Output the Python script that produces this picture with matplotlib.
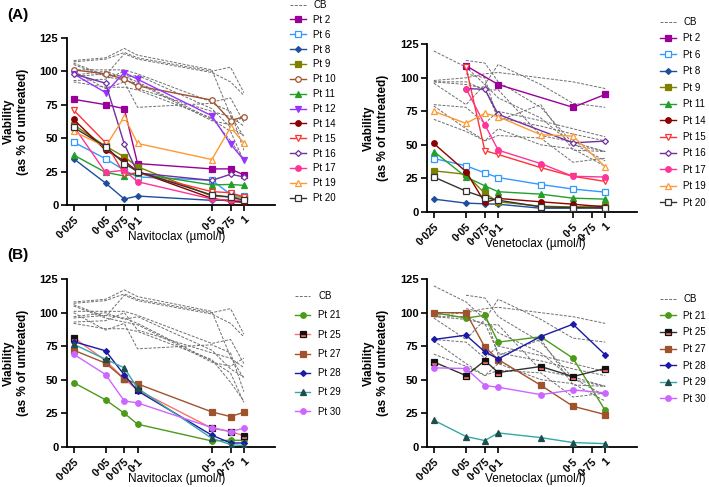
import numpy as np
import matplotlib.pyplot as plt
from matplotlib.ticker import FixedLocator, NullLocator
from matplotlib.transforms import ScaledTranslation

plt.rcParams['font.family'] = ['Liberation Sans', 'DejaVu Sans']

# doses (umol/l)
nav_dose = [0.025, 0.05, 0.075, 0.1, 0.5, 0.75, 1]
ven_dose = [0.025, 0.05, 0.075, 0.1, 0.25, 0.5, 1]
tick_vals = [0.025, 0.05, 0.075, 0.1, 0.5, 0.75, 1]
tick_labels = ['0·025', '0·05', '0·075', '0·1', '0·5', '0·75', '1']
y_ticks = [0, 25, 50, 75, 100, 125]

# cord blood controls (grey dashed)
nav_cb = [
    [108, 110, 117, 112, 101, 67, 51],
    [107, 109, 114, 110, 100, 103, 84],
    [106, 97, 113, 109, 99, 92, 82],
    [101, 101, 101, 98, 77, 80, 62],
    [100, 87, 92, 73, 76, 70, 41],
    [97, 100, 95, 97, 72, 58, 52],
    [96, 98, 96, 92, 64, 55, 33],
    [93, 94, 100, 87, 70, 66, 59],
    [92, 88, 88, 86, 65, 48, 34],
    [105, 96, 93, 91, 63, 60, 66],
]
ven_cb = [
    [120, 108, 95, 85, 70, 50, 45],
    [np.nan, 113, 111, 97, 78, 51, 38],
    [98, 100, 103, 104, 100, 97, 92],
    [97, 97, 91, 91, 57, 52, 45],
    [96, 80, 95, 110, 95, 81, 78],
    [80, 78, 66, 75, 68, 62, 56],
    [79, 62, 53, 57, 55, 37, 40],
    [69, 60, 53, 62, 50, 47, 34],
    [97, 95, 92, 70, 64, 58, 53],
    [np.nan, 103, 100, 68, 80, 46, 45],
]

# (A) patients, navitoclax
nav_a = {
    'Pt 2': [79, 75, 72, 31, 27, 27, 22.5],
    'Pt 6': [47, 34.6, 26, 21, 18.5, 8, 6.5],
    'Pt 8': [34.6, 16.4, 4.5, 6.7, 3.5, 3.7, 2.2],
    'Pt 9': [60, 44, 36, 28.6, 6.7, 6, 6],
    'Pt 10': [101, 98, 94, 89, 78.4, 63, 66],
    'Pt 11': [37.4, 24.4, 21.7, 23.7, 15, 15.4, 14.7],
    'Pt 12': [98, 84, 99, 94, 66.7, 45.6, 33.6],
    'Pt 14': [64, 41, 33, 25, 5, 2.7, 2],
    'Pt 15': [71, 46.6, 23, 24, 10, 9.2, 6],
    'Pt 16': [98, 91, 45.6, 24, 18.4, 23, 21],
    'Pt 17': [59, 24.4, 26, 17.4, 4.5, 3.5, 3.7],
    'Pt 19': [55, 43.6, 66, 46, 34, 58, 46.5],
    'Pt 20': [58, 43.6, 31, 25, 7.5, 6, 3.7],
}
# (A) patients, venetoclax
ven_a = {
    'Pt 2': [np.nan, 109, np.nan, 95, np.nan, 78, 87.6],
    'Pt 6': [39.8, 34.4, 29, 25.6, 20.4, 17, 14.7],
    'Pt 8': [9.5, 6.5, 6, 5.7, 2.7, 2.7, 3.2],
    'Pt 9': [30.6, 28, 13.7, 7.5, 4.2, 3.7, 4.5],
    'Pt 11': [45, 26, 19.4, 15, 13.2, 10.2, 9.5],
    'Pt 14': [51, 30, 7, 10, 7.5, 5.7, 3.7],
    'Pt 15': [np.nan, 108, 45.6, 42.8, 33, 26.5, 22.7],
    'Pt 16': [np.nan, 92, 91.4, 72.7, np.nan, 51.5, 52.8],
    'Pt 17': [np.nan, 92, 65, 46, 36, 26.5, 26],
    'Pt 19': [75, 66, 73.5, 71, 57.5, 56.5, 33.6],
    'Pt 20': [26, 15.4, 10.7, 8.7, 3.7, 3.2, 2.7],
}
# (B) patients
nav_b = {
    'Pt 21': [47.8, 34.9, 24.9, 16.7, 4.2, 4.7, 4.7],
    'Pt 25': [81.4, 64.2, 50.5, 42.3, 13.7, 11.2, 8.2],
    'Pt 27': [72, 62.3, 50.5, 46.8, 25.9, 22.4, 25.6],
    'Pt 28': [78.4, 71.5, 53.5, 41.6, 8.5, 2.7, 2.7],
    'Pt 29': [76.4, 65.2, 58.8, 43.6, 6.2, 1.5, 0.7],
    'Pt 30': [69, 53.8, 34.1, 32.6, 14.2, 11.2, 13.7],
}
ven_b = {
    'Pt 21': [100, 96, 98, 78, 82, 66, 27],
    'Pt 25': [63.2, 53, 64.2, 55.3, 59.8, 52.3, 58.3],
    'Pt 27': [100, 100, 74.2, 65, 45.8, 30.1, 23.9],
    'Pt 28': [80, 83.2, 70.7, 65.5, 82.2, 91.4, 68.5],
    'Pt 29': [19.7, 7.5, 4.5, 10.2, 6.7, 3, 2.2],
    'Pt 30': [58.8, 58.3, 45.6, 44.3, 38.8, 42.3, 40.1],
}

# line colour, marker, marker face
styles = {
    'Pt 2': ('#990099', 's', 'fill'),
    'Pt 6': ('#3399ff', 's', 'open'),
    'Pt 8': ('#1f4e9c', 'D', 'fill'),
    'Pt 9': ('#808000', 's', 'fill'),
    'Pt 10': ('#a0522d', 'o', 'open'),
    'Pt 11': ('#22a02a', '^', 'fill'),
    'Pt 12': ('#9933ff', 'v', 'fill'),
    'Pt 14': ('#8b0000', 'o', 'fill'),
    'Pt 15': ('#ff3333', 'v', 'open'),
    'Pt 16': ('#7030a0', 'D', 'open'),
    'Pt 17': ('#ff3399', 'o', 'fill'),
    'Pt 19': ('#ff9933', '^', 'open'),
    'Pt 20': ('#333333', 's', 'open'),
    'Pt 21': ('#4c9a1a', 'o', 'fill'),
    'Pt 25': ('#ff6f6f', 's', 'fill'),
    'Pt 27': ('#a0522d', 's', 'fill'),
    'Pt 28': ('#1a1aa6', 'D', 'fill'),
    'Pt 29': ('#33a8a6', '^', 'fill'),
    'Pt 30': ('#cc66ff', 'o', 'fill'),
}


def draw_panel(rect, dose, cb, pts, xlabel, xlab_pos, leg_xy, leg_space, pt25_line='#ff6f6f'):
    ax = fig.add_axes(rect)
    dose = np.array(dose)
    handles = []
    for i, row in enumerate(cb):
        y = np.array(row, float)
        m = ~np.isnan(y)
        h, = ax.plot(dose[m], y[m], color='#6e6e6e', ls=(0, (3, 1.5)), lw=0.7, zorder=1)
        if i == 0:
            handles.append(h)
    for name, vals in pts.items():
        col, mk, face = styles[name]
        y = np.array(vals, float)
        m = ~np.isnan(y)
        ms = 3 if mk == 'D' else 4
        kw = dict(mfc=col, mec=col)
        if face == 'open':
            kw = dict(mfc='white', mec=col)
        line_col = col
        if name == 'Pt 25':
            line_col = pt25_line
            kw = dict(mfc='#ff6f6f', mfcalt='#111111', mec='#111111', fillstyle='bottom')
        if name == 'Pt 29':
            kw = dict(mfc='#1d4d4d', mec='#1d4d4d')
        h, = ax.plot(dose[m], y[m], color=line_col, marker=mk, ms=ms, mew=0.9, lw=1.0, zorder=3, **kw)
        handles.append(h)

    ax.set_xscale('log')
    ax.set_xlim(0.0215, 1.97)
    ax.set_ylim(0, 125)
    ax.xaxis.set_major_locator(FixedLocator(tick_vals))
    ax.xaxis.set_minor_locator(NullLocator())
    ax.set_xticklabels(tick_labels, rotation=45, ha='right', rotation_mode='anchor',
                       fontweight='bold', fontsize=7.5)
    # nudge rotated labels a little to the right, as in the original
    for lab in ax.get_xticklabels():
        lab.set_transform(lab.get_transform() + ScaledTranslation(0.035, 0, fig.dpi_scale_trans))
    ax.set_yticks(y_ticks)
    ax.set_yticklabels([str(v) for v in y_ticks], fontweight='bold', fontsize=8)
    ax.tick_params(length=4, width=1.2, pad=2)
    ax.tick_params(axis='x', pad=3)
    for s in ['top', 'right']:
        ax.spines[s].set_visible(False)
    for s in ['left', 'bottom']:
        ax.spines[s].set_linewidth(1.3)

    ax.set_xlabel(xlabel, fontsize=8.5)
    ax.xaxis.set_label_coords(xlab_pos, -0.157)
    ax.set_ylabel('Viability\n(as % of untreated)', fontweight='bold', fontsize=8.5)
    ax.yaxis.set_label_coords(-0.182, 0.5)

    ax.legend(handles, ['CB'] + list(pts.keys()), loc='upper left', bbox_to_anchor=leg_xy,
              bbox_transform=fig.transFigure, frameon=False, fontsize=7, handlelength=1.6,
              handletextpad=0.8, labelspacing=leg_space, borderaxespad=0, borderpad=0)
    return ax


fig = plt.figure(figsize=(7.09, 4.87), dpi=100)

draw_panel([0.094, 0.579, 0.294, 0.3435], nav_dose, nav_cb, nav_a, 'Navitoclax (µmol/l)', 0.527,
           (0.409, 1.0), 0.5)
draw_panel([0.602, 0.565, 0.296, 0.344], ven_dose, ven_cb, ven_a, 'Venetoclax (µmol/l)', 0.516,
           (0.931, 0.965), 0.66)
draw_panel([0.094, 0.083, 0.294, 0.3437], nav_dose, nav_cb, nav_b, 'Navitoclax (µmol/l)', 0.527,
           (0.416, 0.402), 0.95)
draw_panel([0.602, 0.083, 0.296, 0.3437], ven_dose, ven_cb, ven_b, 'Venetoclax (µmol/l)', 0.516,
           (0.931, 0.396), 0.68, pt25_line='#333333')

fig.text(0.01, 0.969, '(A)', fontweight='bold', fontsize=11, va='center')
fig.text(0.01, 0.476, '(B)', fontweight='bold', fontsize=11, va='center')

fig.savefig('out.png', dpi=100)
